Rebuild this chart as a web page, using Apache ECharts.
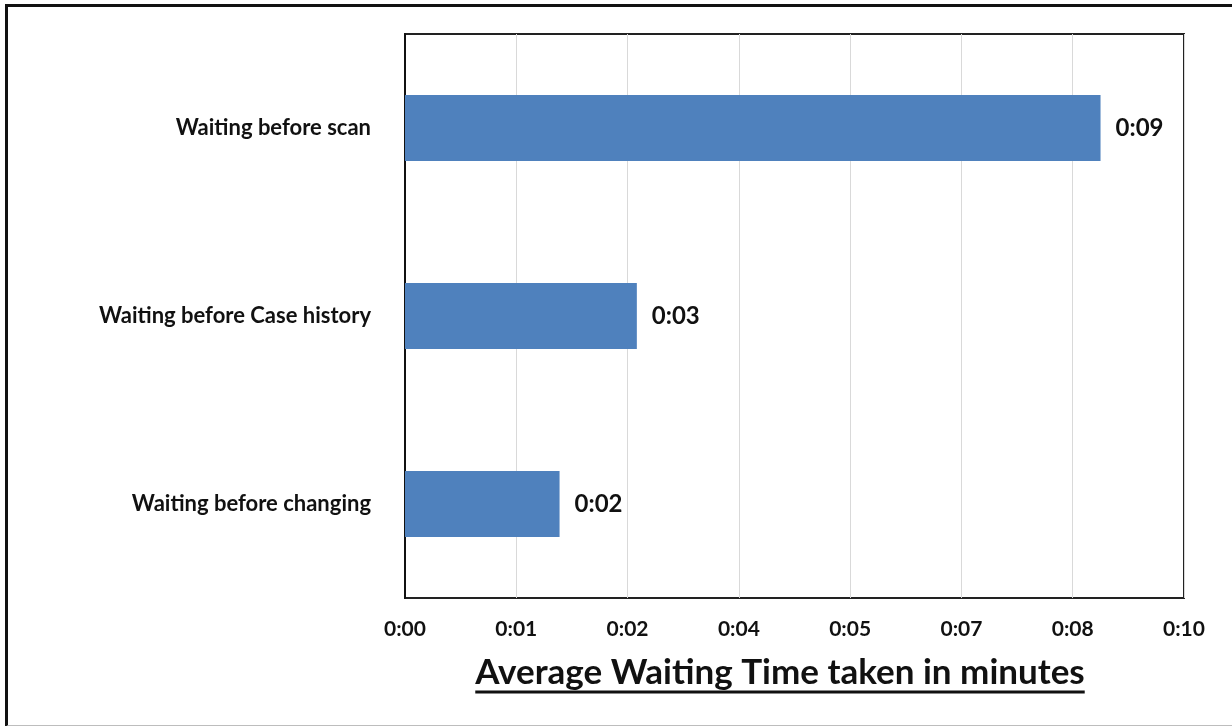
<!DOCTYPE html>
<html>
<head>
<meta charset="utf-8">
<script src="https://cdn.jsdelivr.net/npm/echarts@6/dist/echarts.min.js"></script>
<style>
  html, body { margin: 0; padding: 0; background: #fff; }
  #wrap { position: relative; width: 1232px; height: 726px; }
  #chart { position: absolute; left: 0; top: 0; width: 1232px; height: 726px; }
  #frame {
    position: absolute; left: 5px; top: 4px; width: 1240px; height: 718px;
    border-left: 3px solid #111; border-top: 3px solid #111; border-bottom: 2px solid #bdbdbd;
    pointer-events: none;
  }
</style>
</head>
<body>
<div id="wrap">
  <div id="chart"></div>
  <div id="frame"></div>
</div>
<script>
// Waiting stages (bottom to top) and their average waiting time in minutes
const categories = ['Waiting before changing', 'Waiting before Case history', 'Waiting before scan'];
const waitMinutes = [2, 3, 9];

// Time axis: 0 to 0.007 day (10.08 min), major unit 0.001 day (1.44 min)
const axisMin = 0;
const axisMax = 10.08;
const axisStep = 1.44;

const axisTitle = 'Average Waiting Time taken in minutes';

const FONT = 'Lato, "Open Sans", sans-serif';
const BAR_COLOR = '#4f81bd';

// h:mm display (whole minutes, truncated like a time format)
function fmtTime(min) {
  const m = Math.floor(min + 1e-6);
  const h = Math.floor(m / 60);
  const mm = m % 60;
  return h + ':' + (mm < 10 ? '0' : '') + mm;
}

const titleSize = 35;
const titleX = 780;
const titleY = 673;
const measure = document.createElement('canvas').getContext('2d');
measure.font = 'bold ' + titleSize + 'px ' + FONT;
const titleW = measure.measureText(axisTitle).width;

const chart = echarts.init(document.getElementById('chart'), null, { renderer: 'canvas' });
chart.setOption({
  animation: false,
  backgroundColor: '#fff',
  grid: {
    left: 405, top: 34, width: 779, height: 564,
    show: true, borderColor: '#222', borderWidth: 2, backgroundColor: 'transparent',
    containLabel: false
  },
  xAxis: {
    type: 'value',
    min: axisMin, max: axisMax, interval: axisStep,
    axisLine: { show: false },
    axisTick: { show: false },
    splitLine: { show: true, lineStyle: { color: '#d9d9d9', width: 1 } },
    axisLabel: {
      formatter: fmtTime,
      margin: 21,
      color: '#111', fontFamily: FONT, fontWeight: 'bold', fontSize: 21,
      showMinLabel: true, showMaxLabel: true
    }
  },
  yAxis: {
    type: 'category',
    data: categories,
    axisLine: { show: true, lineStyle: { color: '#111', width: 2 } },
    axisTick: { show: false },
    splitLine: { show: false },
    axisLabel: {
      margin: 34,
      color: '#111', fontFamily: FONT, fontWeight: 'bold', fontSize: 22
    }
  },
  series: [{
    type: 'bar',
    data: waitMinutes,
    barWidth: '35%',
    itemStyle: { color: BAR_COLOR },
    label: {
      show: true, position: 'right', distance: 15,
      formatter: p => fmtTime(p.value),
      color: '#111', fontFamily: FONT, fontWeight: 'bold', fontSize: 24
    }
  }],
  graphic: [
    {
      type: 'text', x: titleX, y: titleY,
      style: {
        text: axisTitle, fill: '#111', align: 'center', verticalAlign: 'middle',
        font: 'bold ' + titleSize + 'px ' + FONT
      }
    },
    {
      type: 'line',
      shape: { x1: titleX - titleW / 2, y1: titleY + 19, x2: titleX + titleW / 2, y2: titleY + 19 },
      style: { stroke: '#111', lineWidth: 3 }
    }
  ]
});
</script>
</body>
</html>
